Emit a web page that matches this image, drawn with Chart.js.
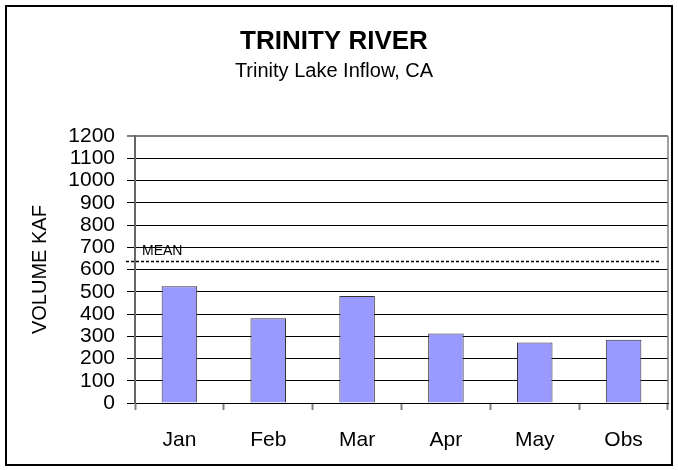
<!DOCTYPE html>
<html>
<head>
<meta charset="utf-8">
<script src="https://cdn.jsdelivr.net/npm/chart.js@4"></script>
<style>
  html, body { margin: 0; padding: 0; background: #fff; }
  #wrap { width: 678px; height: 470px; }
</style>
</head>
<body>
<div id="wrap"><canvas id="volumeChart" width="678" height="470"></canvas></div>
<script>
// Trinity Lake inflow volumes (KAF)
const months = ['Jan', 'Feb', 'Mar', 'Apr', 'May', 'Obs'];
const volumes = [525, 381, 481, 313, 272, 284];
const meanVolume = 640;
const meanLabel = 'MEAN';

const fontFamily = "'Liberation Sans', Arial, sans-serif";

// white background + black frame around the whole chart
const framePlugin = {
    id: 'frame',
    beforeDraw(chart) {
        const c = chart.ctx;
        c.save();
        c.fillStyle = '#fff';
        c.fillRect(0, 0, chart.width, chart.height);
        c.strokeStyle = '#000';
        c.lineWidth = 2;
        c.strokeRect(6, 6, chart.width - 12, chart.height - 11);
        c.restore();
    }
};

// right edge of the plot + dashed mean line
const meanLinePlugin = {
    id: 'meanLine',
    afterDatasetsDraw(chart) {
        const c = chart.ctx;
        const area = chart.chartArea;
        const y = Math.round(chart.scales.y.getPixelForValue(meanVolume)) + 0.5;
        c.save();
        c.strokeStyle = '#808080';
        c.lineWidth = 1.5;
        c.beginPath();
        c.moveTo(area.right, area.top);
        c.lineTo(area.right, area.bottom);
        c.stroke();

        c.strokeStyle = '#000';
        c.lineWidth = 1.5;
        c.setLineDash([3, 2]);
        c.beginPath();
        c.moveTo(area.left - 9, y);
        c.lineTo(area.right - 9, y);
        c.stroke();
        c.setLineDash([]);

        c.fillStyle = '#000';
        c.font = '14px ' + fontFamily;
        c.textAlign = 'left';
        c.textBaseline = 'bottom';
        c.fillText(meanLabel, area.left + 7, y - 3);
        c.restore();
    }
};

new Chart(document.getElementById('volumeChart').getContext('2d'), {
    type: 'bar',
    data: {
        labels: months,
        datasets: [{
            label: 'Volume KAF',
            data: volumes,
            backgroundColor: '#9999ff',
            borderColor: '#333333',
            borderWidth: 1,
            barPercentage: 0.4,
            categoryPercentage: 1
        }]
    },
    options: {
        responsive: false,
        animation: false,
        layout: {
            padding: { top: 0, right: 10, bottom: 0, left: 0 }
        },
        plugins: {
            legend: { display: false },
            tooltip: { enabled: false },
            title: {
                display: true,
                text: 'TRINITY RIVER',
                color: '#000',
                font: { family: fontFamily, size: 26, weight: 'bold' },
                padding: { top: 26, bottom: 0 }
            },
            subtitle: {
                display: true,
                text: 'Trinity Lake Inflow, CA',
                color: '#000',
                font: { family: fontFamily, size: 20 },
                padding: { top: 2, bottom: 53 }
            }
        },
        scales: {
            x: {
                afterFit(scale) { scale.height = 67; },
                grid: {
                    offset: true,
                    drawOnChartArea: false,
                    drawTicks: true,
                    tickLength: 7,
                    tickColor: '#808080',
                    tickWidth: 2
                },
                border: { display: true, color: '#000', width: 1 },
                ticks: {
                    color: '#000',
                    padding: 18,
                    font: { family: fontFamily, size: 21 }
                }
            },
            y: {
                min: 0,
                max: 1200,
                afterFit(scale) { scale.width = 135; },
                grid: {
                    color: ctx => (ctx.tick && ctx.tick.value === 1200) ? '#808080' : '#000',
                    lineWidth: ctx => (ctx.tick && ctx.tick.value === 1200) ? 2 : 1,
                    tickLength: 8
                },
                border: { display: true, color: '#666', width: 2 },
                ticks: {
                    stepSize: 100,
                    autoSkip: false,
                    color: '#000',
                    padding: 12,
                    font: { family: fontFamily, size: 21 },
                    callback: value => String(value)
                },
                title: {
                    display: true,
                    text: 'VOLUME KAF',
                    color: '#000',
                    font: { family: fontFamily, size: 20 },
                    padding: { top: 28, bottom: 0 }
                }
            }
        }
    },
    plugins: [framePlugin, meanLinePlugin]
});
</script>
</body>
</html>
